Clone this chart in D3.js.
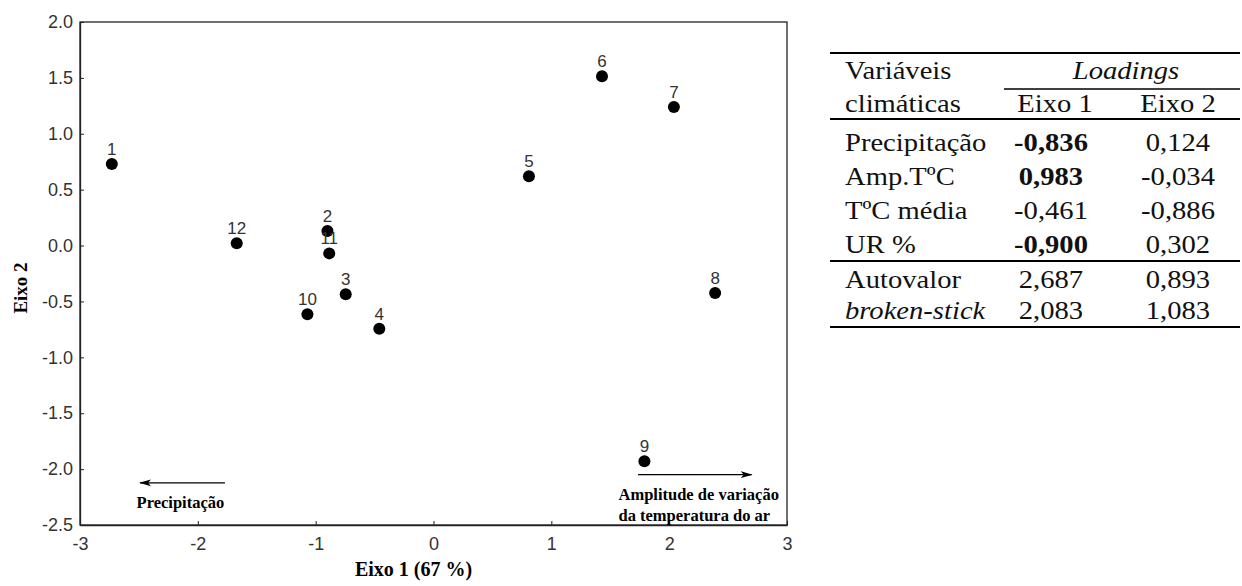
<!DOCTYPE html>
<html>
<head>
<meta charset="utf-8">
<script src="https://cdn.jsdelivr.net/npm/d3@7"></script>
<style>
  body { margin: 0; background: #fff; }
  svg { display: block; }
</style>
</head>
<body>
<div id="chart-area"></div>
<script>
// PCA scores (months 1..12)
const ids = ['1', '2', '3', '4', '5', '6', '7', '8', '9', '10', '11', '12'];
const eixo1 = [-2.73, -0.90, -0.745, -0.46, 0.81, 1.43, 2.04, 2.39, 1.79, -1.07, -0.885, -1.67];
const eixo2 = [0.73, 0.13, -0.435, -0.745, 0.62, 1.515, 1.24, -0.425, -1.93, -0.615, -0.07, 0.02];

const xTicks = [-3, -2, -1, 0, 1, 2, 3];
const yTicks = [2.0, 1.5, 1.0, 0.5, 0.0, -0.5, -1.0, -1.5, -2.0, -2.5];

// loadings table
const variaveis = ['Precipitação', 'Amp.TºC', 'TºC média', 'UR %'];
const load1 = ['-0,836', '0,983', '-0,461', '-0,900'];
const load2 = ['0,124', '-0,034', '-0,886', '0,302'];
const load1Bold = [true, true, false, true];
const extraRows = ['Autovalor', 'broken-stick'];
const extra1 = ['2,687', '2,083'];
const extra2 = ['0,893', '1,083'];

const serif = '"Liberation Serif", "Times New Roman", serif';
const sans = '"Liberation Sans", Arial, sans-serif';

const svg = d3.select("#chart-area").append("svg")
    .attr("width", 1242)
    .attr("height", 586);

const margin = { top: 22, right: 455, bottom: 61, left: 80 };
const width = 1242 - margin.left - margin.right,
    height = 586 - margin.top - margin.bottom;

const g = svg.append("g")
    .attr("transform", `translate(${margin.left}, ${margin.top})`);

const x = d3.scaleLinear().domain([-3, 3]).range([0, width]);
const y = d3.scaleLinear().domain([-2.5, 2.0]).range([height, 0]);

// frame
g.append("rect")
    .attr("width", width)
    .attr("height", height)
    .attr("fill", "none")
    .attr("stroke", "#222")
    .attr("stroke-width", 1.3);

const xAxis = g.append("g")
    .attr("transform", `translate(0, ${height})`)
    .call(d3.axisBottom(x).tickValues(xTicks).tickSizeInner(-4).tickSizeOuter(0).tickPadding(12)
        .tickFormat(d => String(d)));
const yAxis = g.append("g")
    .call(d3.axisLeft(y).tickValues(yTicks).tickSizeInner(-4).tickSizeOuter(0).tickPadding(7)
        .tickFormat(d => d.toFixed(1)));

[xAxis, yAxis].forEach(a => {
    a.select(".domain").attr("stroke", "#222").attr("stroke-width", 1.3);
    a.selectAll(".tick line").attr("stroke", "#222");
    a.selectAll(".tick text")
        .attr("font-family", sans)
        .attr("font-size", 18)
        .attr("fill", "#333");
});

// points
const pts = ids.map((id, i) => ({ id, a: eixo1[i], b: eixo2[i] }));
g.selectAll("circle.pt").data(pts).join("circle")
    .attr("class", "pt")
    .attr("cx", d => x(d.a))
    .attr("cy", d => y(d.b))
    .attr("r", 6)
    .attr("fill", "#000");

g.selectAll("text.lbl").data(pts).join("text")
    .attr("class", "lbl")
    .attr("x", d => x(d.a))
    .attr("y", d => y(d.b) - 9)
    .attr("text-anchor", "middle")
    .attr("font-family", sans)
    .attr("font-size", 17)
    .attr("fill", "#333")
    .text(d => d.id);

// arrows
const defs = svg.append("defs");
defs.append("marker")
    .attr("id", "head")
    .attr("viewBox", "0 0 12 8")
    .attr("refX", 11).attr("refY", 4)
    .attr("markerWidth", 12).attr("markerHeight", 8)
    .attr("markerUnits", "userSpaceOnUse")
    .attr("orient", "auto")
    .append("path")
    .attr("d", "M0,0.5 L12,4 L0,7.5 L3,4 Z")
    .attr("fill", "#000");

g.append("line")
    .attr("x1", x(-1.77)).attr("y1", y(-2.123))
    .attr("x2", x(-2.49)).attr("y2", y(-2.123))
    .attr("stroke", "#000").attr("stroke-width", 1.2)
    .attr("marker-end", "url(#head)");
g.append("text")
    .attr("x", x(-2.52)).attr("y", y(-2.35))
    .attr("font-family", serif).attr("font-weight", "bold").attr("font-size", 16.5)
    .text("Precipitação");

g.append("line")
    .attr("x1", x(1.736)).attr("y1", y(-2.05))
    .attr("x2", x(2.70)).attr("y2", y(-2.05))
    .attr("stroke", "#000").attr("stroke-width", 1.2)
    .attr("marker-end", "url(#head)");
const amp = g.append("text")
    .attr("font-family", serif).attr("font-weight", "bold").attr("font-size", 16.5);
amp.append("tspan").attr("x", x(1.57)).attr("y", y(-2.28)).text("Amplitude de variação");
amp.append("tspan").attr("x", x(1.57)).attr("y", y(-2.465)).text("da temperatura do ar");

// axis titles
g.append("text")
    .attr("x", width / 2 - 20).attr("y", height + 51)
    .attr("text-anchor", "middle")
    .attr("font-family", serif).attr("font-weight", "bold").attr("font-size", 20)
    .text("Eixo 1 (67 %)");
svg.append("text")
    .attr("transform", `translate(27, 288) rotate(-90)`)
    .attr("text-anchor", "middle")
    .attr("font-family", serif).attr("font-weight", "bold").attr("font-size", 19)
    .text("Eixo 2");

// table
const sx = 1.1;
const t = svg.append("g");
const colLeft = 845, col1 = 1051, col2 = 1178;
function cell(txt, cx, cy, anchor, opts = {}) {
    t.append("text")
        .attr("transform", `translate(${cx}, ${cy}) scale(${sx}, 1)`)
        .attr("text-anchor", anchor)
        .attr("font-family", serif)
        .attr("font-size", 26)
        .attr("font-weight", opts.bold ? "bold" : "normal")
        .attr("font-style", opts.italic ? "italic" : "normal")
        .attr("fill", "#111")
        .text(txt);
}
function hline(x1, x2, yy, w) {
    t.append("line").attr("x1", x1).attr("x2", x2).attr("y1", yy).attr("y2", yy)
        .attr("stroke", "#000").attr("stroke-width", w);
}
hline(830, 1240, 53, 2);
hline(1004, 1240, 89, 1.5);
hline(830, 1240, 119, 2);
hline(830, 1240, 261, 2);
hline(830, 1240, 327, 2);

cell("Variáveis", colLeft, 79, "start");
cell("Loadings", 1126, 79, "middle", { italic: true });
cell("climáticas", colLeft, 112, "start");
cell("Eixo 1", col1 + 4, 112, "middle");
cell("Eixo 2", col2, 112, "middle");

const rowY = [151, 185, 219, 253];
variaveis.forEach((v, i) => {
    cell(v, colLeft, rowY[i], "start");
    cell(load1[i], col1, rowY[i], "middle", { bold: load1Bold[i] });
    cell(load2[i], col2, rowY[i], "middle");
});
const extraY = [288, 319];
extraRows.forEach((v, i) => {
    cell(v, colLeft, extraY[i], "start", { italic: i === 1 });
    cell(extra1[i], col1, extraY[i], "middle");
    cell(extra2[i], col2, extraY[i], "middle");
});
</script>
</body>
</html>
